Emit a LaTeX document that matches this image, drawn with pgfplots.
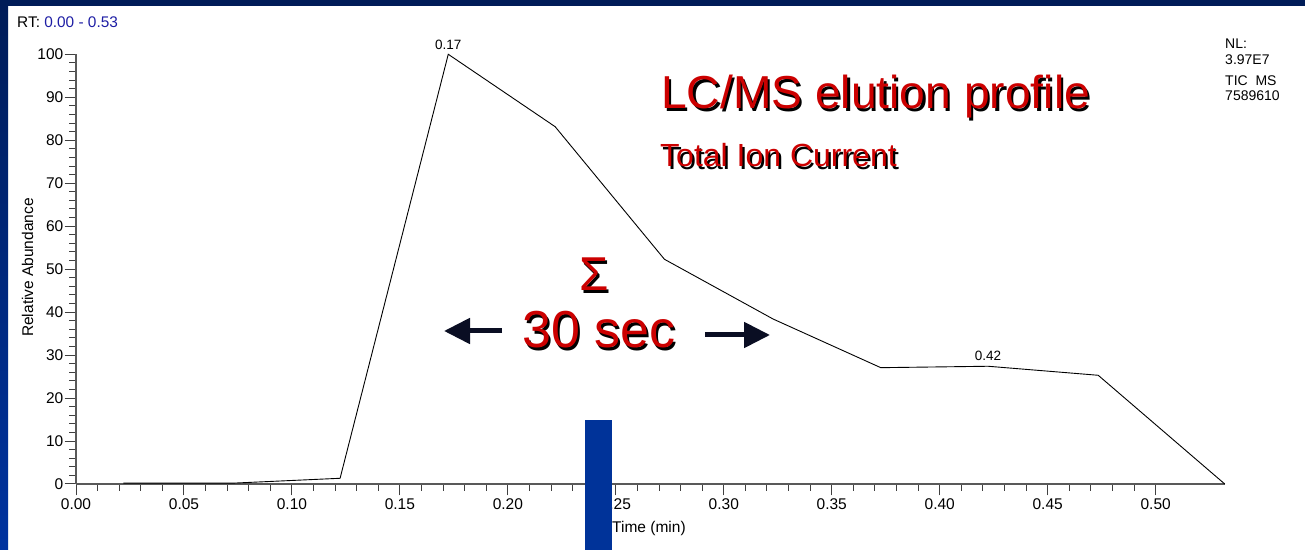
\documentclass[border=0pt]{standalone}
\usepackage{pgfplots}
\pgfplotsset{compat=1.18}
\usepackage{fontspec}
\setmainfont{Liberation Sans}
\usetikzlibrary{arrows.meta}
\definecolor{navy}{RGB}{0,28,88}
\definecolor{bandblue}{RGB}{0,51,160}
\definecolor{titlered}{RGB}{204,0,0}
\definecolor{rtblue}{RGB}{30,30,165}
\definecolor{barblue}{RGB}{0,51,153}
\definecolor{arrowdark}{RGB}{10,14,35}
\newcommand{\fs}[1]{\fontsize{#1bp}{#1bp}\selectfont}
\pgfplotstableread{
x y
0.0219 0.2
0.0728 0.2
0.1223 1.33
0.1724 100
0.2219 83.15
0.2725 52.3
0.3228 38.4
0.3727 27.07
0.4224 27.4
0.4734 25.3
0.5320 0
}\ticdata
\begin{document}
\begin{tikzpicture}[x=1bp,y=1bp]
\useasboundingbox (0,0) rectangle (1305,550);
\fill[white] (0,0) rectangle (1305,550);
\shade[top color=navy, bottom color=bandblue] (0,0) rectangle (8,550);
\fill[navy] (0,544) rectangle (1305,550);
\begin{axis}[
  at={(76bp,66bp)}, anchor=south west,
  scale only axis, width=1148.7bp, height=429.7bp,
  xmin=0, xmax=0.532, ymin=0, ymax=100,
  axis lines*=left,
  axis line style={black!65, line width=1.2bp},
  tick align=outside,
  major tick length=11.5bp, minor tick length=7bp,
  every tick/.style={black!75, line width=1bp},
  xtick={0,0.05,0.10,0.15,0.20,0.25,0.30,0.35,0.40,0.45,0.50},
  ytick={0,10,20,30,40,50,60,70,80,90,100},
  minor x tick num=4, minor y tick num=4,
  xticklabel style={/pgf/number format/fixed, /pgf/number format/precision=2, /pgf/number format/fixed zerofill, inner ysep=2.5bp},
  yticklabel style={inner xsep=1bp},
  /pgf/number format/assume math mode=true,
  ticklabel style={font=\fs{15.5}},
  clip=false,
]
\addplot[black, line width=0.9bp, mark=none] table[x=x,y=y] {\ticdata};
\node[anchor=base, inner sep=0, font=\fs{13.5}] at (axis cs:0.1724,100) [yshift=5bp] {0.17};
\node[anchor=base, inner sep=0, font=\fs{13.5}] at (axis cs:0.4224,27.4) [yshift=6bp] {0.42};
\end{axis}
% header texts
\node[anchor=base west, inner sep=0, font=\fs{15.4}] at (17,522) {RT: \textcolor{rtblue}{0.00 - 0.53}};
\node[anchor=base west, inner sep=0, font=\fs{14}] at (1225,501) {NL:};
\node[anchor=base west, inner sep=0, font=\fs{14}] at (1225,485.7) {3.97E7};
\node[anchor=base west, inner sep=0, font=\fs{14}] at (1225,464.3) {TIC\ \ MS};
\node[anchor=base west, inner sep=0, font=\fs{14}] at (1225,449.3) {7589610};
% axis titles
\node[rotate=90, inner sep=0, font=\fs{15.5}] at (27.5,282.5) {Relative Abundance};
\node[anchor=base west, inner sep=0, font=\fs{15.5}] at (612,17) {Time (min)};
% red titles with shadow
\foreach \c/\dx/\dy in {black/2.2/-2.2, titlered/0/0}{
  \node[anchor=base west, inner sep=0, text=\c, font=\fs{46.2}] at (661+\dx,441+\dy) {LC/MS elution profile};
  \node[anchor=base west, inner sep=0, text=\c, font=\fs{32}] at (660+\dx,383+\dy) {Total Ion Current};
  \node[anchor=base, inner sep=0, text=\c, font=\fs{47.5}] at (594+\dx,259+\dy) {Σ};
  \node[anchor=base west, inner sep=0, text=\c, font=\fs{52}] at (522+\dx,202+\dy) {30 sec};
}
% arrows
\draw[arrowdark, line width=5bp, -{Triangle[length=26bp,width=25bp]}] (502,219) -- (444,219);
\draw[arrowdark, line width=5bp, -{Triangle[length=26bp,width=25bp]}] (705,215) -- (770,215);
% blue bar
\fill[barblue] (584.5,0) rectangle (611.5,130);
\end{tikzpicture}
\end{document}
